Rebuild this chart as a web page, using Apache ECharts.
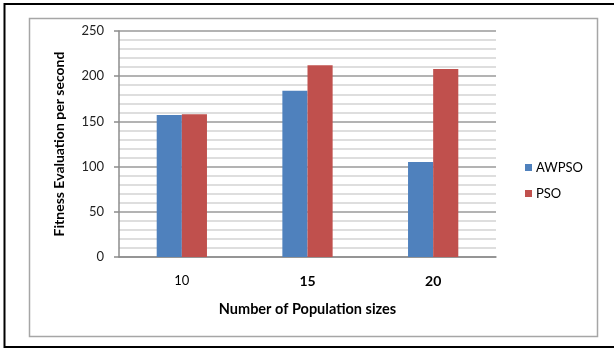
<!DOCTYPE html>
<html>
<head>
<meta charset="utf-8">
<style>
  html, body { margin: 0; padding: 0; background: #ffffff; }
  #chart { width: 614px; height: 349px; }
</style>
<script src="https://cdn.jsdelivr.net/npm/echarts@6/dist/echarts.min.js"></script>
</head>
<body>
<div id="chart"></div>
<script>
// Population sizes on the category axis
const categories = ['10', '15', '20'];
// Fitness evaluations per second for each algorithm
const awpsoValues = [157, 184, 105];
const psoValues = [158, 212, 208];
// Value axis ticks
const yTicks = [0, 50, 100, 150, 200, 250];

const FONT = 'Lato, "Open Sans", sans-serif';
const chart = echarts.init(document.getElementById('chart'), null, { renderer: 'canvas' });

chart.setOption({
  backgroundColor: '#ffffff',
  animation: false,
  graphic: [
    { type: 'rect', shape: { x: 4.5, y: 4, width: 640, height: 343 },
      style: { fill: 'none', stroke: '#000000', lineWidth: 2 }, silent: true },
    { type: 'rect', shape: { x: 29.5, y: 18.5, width: 568, height: 318 },
      style: { fill: 'none', stroke: '#a6a6a6', lineWidth: 1.5 }, silent: true }
  ],
  grid: { left: 119, top: 31, right: 118, bottom: 92, containLabel: false },
  legend: {
    orient: 'vertical',
    left: 520, top: 156,
    itemWidth: 7, itemHeight: 7, itemGap: 13,
    icon: 'rect',
    textStyle: { fontFamily: FONT, fontSize: 13, color: '#000000', padding: [0, 0, 0, -1] },
    data: ['AWPSO', 'PSO']
  },
  xAxis: {
    type: 'category',
    data: categories,
    name: 'Number of Population sizes',
    nameLocation: 'middle',
    nameGap: 45,
    nameTextStyle: { fontFamily: FONT, fontSize: 14.5, fontWeight: 'bold', color: '#000000' },
    axisLine: { lineStyle: { color: '#8c8c8c', width: 1.5 } },
    axisTick: { show: false },
    axisLabel: {
      margin: 17,
      fontFamily: FONT, fontSize: 13, color: '#000000',
      formatter: function (v) { return v === '10' ? v : '{b|' + v + '}'; },
      rich: { b: { fontFamily: FONT, fontSize: 14, fontWeight: 'bold', color: '#000000' } }
    }
  },
  yAxis: {
    type: 'value',
    min: yTicks[0],
    max: yTicks[yTicks.length - 1],
    interval: 50,
    name: 'Fitness Evaluation per second',
    nameLocation: 'middle',
    nameGap: 53,
    nameTextStyle: { fontFamily: FONT, fontSize: 14, fontWeight: 'bold', color: '#000000' },
    axisLine: { show: true, lineStyle: { color: '#8c8c8c', width: 1.5 } },
    axisTick: { show: true, length: 5, lineStyle: { color: '#8c8c8c', width: 1.5 } },
    axisLabel: { margin: 15, fontFamily: FONT, fontSize: 13, color: '#222222' },
    splitLine: { show: true, lineStyle: { color: '#9a9a9a', width: 1.5 } },
    minorTick: { show: false, splitNumber: 5 },
    minorSplitLine: { show: true, lineStyle: { color: '#d4d4d4', width: 1.5 } }
  },
  series: [
    {
      name: 'AWPSO', type: 'bar', data: awpsoValues,
      barGap: '0%', barCategoryGap: '60%',
      itemStyle: { color: '#4f81bd' }
    },
    {
      name: 'PSO', type: 'bar', data: psoValues,
      barGap: '0%', barCategoryGap: '60%',
      itemStyle: { color: '#c0504d' }
    }
  ]
});
</script>
</body>
</html>
